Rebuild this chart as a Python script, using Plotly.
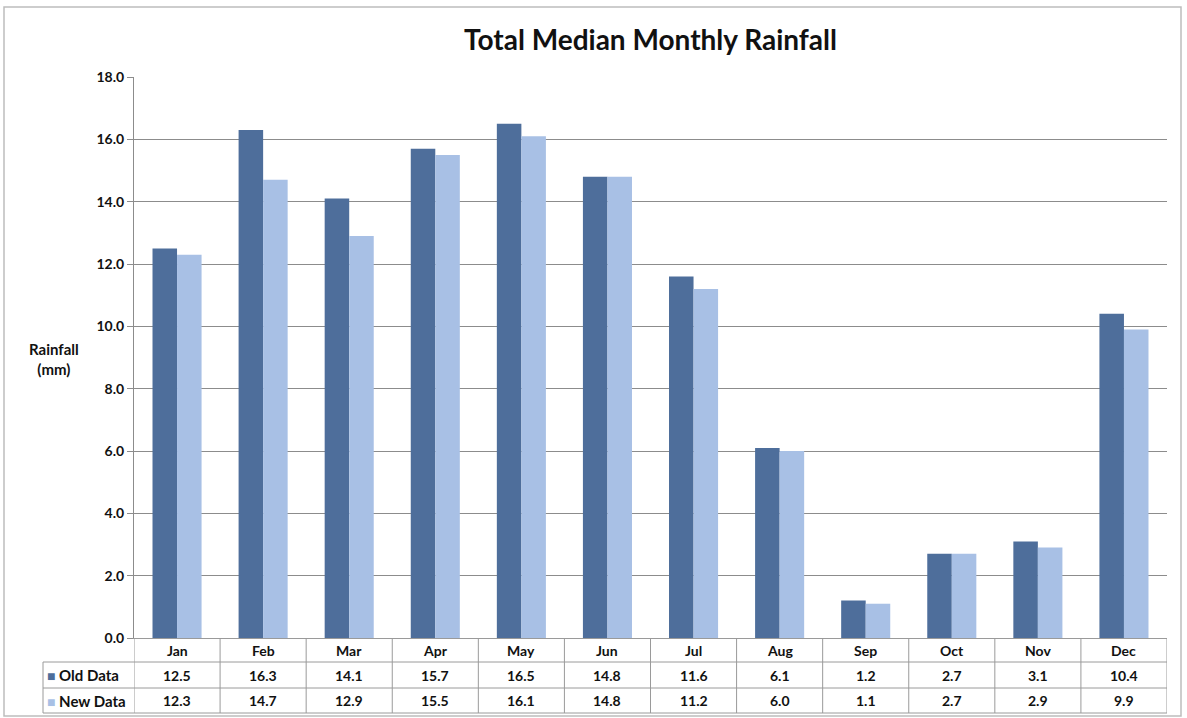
import plotly.graph_objects as go

months = ["Jan", "Feb", "Mar", "Apr", "May", "Jun", "Jul", "Aug", "Sep", "Oct", "Nov", "Dec"]
old_data = [12.5, 16.3, 14.1, 15.7, 16.5, 14.8, 11.6, 6.1, 1.2, 2.7, 3.1, 10.4]
new_data = [12.3, 14.7, 12.9, 15.5, 16.1, 14.8, 11.2, 6.0, 1.1, 2.7, 2.9, 9.9]
series_names = ["Old Data", "New Data"]
y_ticks = [0, 2, 4, 6, 8, 10, 12, 14, 16, 18]

OLD_C = "#4E6E9B"
NEW_C = "#A8C0E5"
GRID = "#8C8C8C"
TABLE_LINE = "#9A9A9A"
FONT = "Lato"

W, H = 1187, 718
L, R, T, B = 134, 20, 77, 80
PW, PH = W - L - R, H - T - B


def px(p):
    return (p - L) / PW


def py(q):
    return (H - B - q) / PH


fig = go.Figure()
fig.add_trace(go.Bar(x=months, y=old_data, name=series_names[0], marker=dict(color=OLD_C, line=dict(width=0))))
fig.add_trace(go.Bar(x=months, y=new_data, name=series_names[1], marker=dict(color=NEW_C, line=dict(width=0))))

shapes = []
annotations = []

# Outer frame
shapes.append(dict(type="rect", xref="paper", yref="paper", x0=px(4), x1=px(1181), y0=py(716), y1=py(7),
                   line=dict(color="#BDBDBD", width=1.5), layer="below"))

# Table lines
row_lines = [662, 688, 713]
for q in row_lines:
    shapes.append(dict(type="line", xref="paper", yref="paper", x0=px(43), x1=1, y0=py(q), y1=py(q),
                       line=dict(color=TABLE_LINE, width=1)))
shapes.append(dict(type="line", xref="paper", yref="paper", x0=px(43), x1=px(43), y0=py(662), y1=py(713),
                   line=dict(color=TABLE_LINE, width=1)))
for i in range(len(months) + 1):
    shapes.append(dict(type="line", xref="x", yref="paper", x0=i - 0.5, x1=i - 0.5, y0=0, y1=py(713),
                       line=dict(color=TABLE_LINE, width=1)))

tf = dict(size=14, color="#111", family=FONT, weight="bold")
common = dict(showarrow=False, yanchor="middle", yref="paper")

# Header row (months) and values
for m, o, n in zip(months, old_data, new_data):
    annotations.append(dict(x=m, xref="x", xanchor="center", y=py(650), text=m, font=tf, **common))
    annotations.append(dict(x=m, xref="x", xanchor="center", y=py(675), text=f"{o:.1f}", font=tf, **common))
    annotations.append(dict(x=m, xref="x", xanchor="center", y=py(700.5), text=f"{n:.1f}", font=tf, **common))

# Row labels with legend keys
for name, color, q in [(series_names[0], OLD_C, 675), (series_names[1], NEW_C, 700.5)]:
    annotations.append(dict(x=px(45), xref="paper", xanchor="left", y=py(q),
                            text=f"<span style='color:{color};font-size:14px'>■</span> {name}",
                            font=dict(size=15, color="#111", family=FONT, weight="bold"), **common))

# Y axis label
annotations.append(dict(x=px(54), xref="paper", xanchor="center", y=py(359), text="Rainfall<br>(mm)",
                        align="center", font=dict(size=15, color="#111", family=FONT, weight="bold"), **common))

fig.update_layout(
    width=W, height=H,
    margin=dict(l=L, r=R, t=T, b=B),
    paper_bgcolor="white", plot_bgcolor="white",
    title=dict(text="Total Median Monthly Rainfall", x=0.5, xref="paper", xanchor="center",
               y=1 - 40 / H, yanchor="middle",
               font=dict(size=28, color="#111", family=FONT, weight="bold")),
    barmode="group", bargap=0.43, bargroupgap=0,
    showlegend=False,
    font=dict(family=FONT, color="#111"),
    xaxis=dict(type="category", showticklabels=False, ticks="", showgrid=False,
               showline=True, linecolor=TABLE_LINE, linewidth=1, range=[-0.5, 11.5]),
    yaxis=dict(range=[0, 18], tickvals=y_ticks, tickformat=".1f", showgrid=True, gridcolor=GRID, gridwidth=1,
               ticks="outside", ticklen=6, tickcolor=GRID, showline=True, linecolor=GRID, linewidth=1,
               zeroline=False,
               tickfont=dict(size=14, color="#111", family=FONT, weight="bold")),
    shapes=shapes, annotations=annotations,
)

fig.write_html("out.html", config={"displayModeBar": False},
               post_script="document.body.style.margin='0px';document.body.style.overflow='hidden';")
